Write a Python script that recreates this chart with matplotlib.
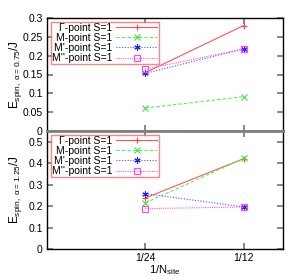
import matplotlib
matplotlib.use('Agg')
import matplotlib.pyplot as plt

plt.rcParams['font.family'] = ['Liberation Sans', 'DejaVu Sans']
plt.rcParams['mathtext.default'] = 'regular'
plt.rcParams['font.size'] = 8

# x positions: 1/N_site
x = [1 / 24, 1 / 12]
xtick_labels = ['1/24', '1/12']
labels = ["\u0393-point S=1", "M-point S=1", "M'-point S=1", "M''-point S=1"]

# alpha = 0.75
top_gamma = [0.155, 0.280]
top_m = [0.061, 0.091]
top_m1 = [0.153, 0.218]
top_m2 = [0.164, 0.218]

# alpha = 1.25
bot_gamma = [0.238, 0.421]
bot_m = [0.215, 0.422]
bot_m1 = [0.258, 0.196]
bot_m2 = [0.188, 0.196]

colors = ['#ff5555', '#55ee55', '#5555ff', '#ff55ff']
mcolors = ['#ff4444', '#44dd44', '#2222ff', '#ff44ff']
styles = ['-', (0, (3, 2)), (0, (1, 1.5)), (0, (1, 1))]
markers = ['+', 'x', (6, 2, 0), 's']

W, H = 300, 279
fig = plt.figure(figsize=(W / 100, H / 100), dpi=100)
ax1 = fig.add_axes([47 / W, (H - 131) / H, 236 / W, 113 / H])
ax2 = fig.add_axes([47 / W, (H - 249) / H, 236 / W, 118 / H])


def draw(ax, series, ylim, yticks, ylabel):
    for ys, c, mc, ls, mk, lab in zip(series, colors, mcolors, styles, markers, labels):
        ax.plot(x, ys, color=c, linestyle=ls, linewidth=0.8, marker=mk,
                markersize=4.5, markeredgecolor=mc, markerfacecolor='none' if mk == 's' else mc,
                markeredgewidth=0.8, label=lab)
    ax.set_xlim(0, 0.1)
    ax.set_ylim(*ylim)
    ax.set_yticks(yticks)
    ax.set_xticks(x)
    ax.tick_params(direction='in', length=4, width=1.2, color='0.45',
                   top=True, right=True, pad=3, labelsize=7.5)
    ax.set_ylabel(ylabel, labelpad=3, fontsize=8.5)
    leg = ax.legend(loc='upper left', markerfirst=False, frameon=True, fancybox=False,
                    handlelength=4.0, handletextpad=0.35, borderpad=0.1,
                    labelspacing=0.02, borderaxespad=0.35, fontsize=7.5)
    leg.get_frame().set_edgecolor('#ff6666')
    leg.get_frame().set_linewidth(1.0)
    for t in leg.get_texts():
        t.set_ha('right')
    leg._legend_box.align = 'right'
    for s in ax.spines.values():
        s.set_linewidth(1.0)


draw(ax1, [top_gamma, top_m, top_m1, top_m2], (0, 0.3),
     [0, 0.05, 0.1, 0.15, 0.2, 0.25, 0.3], r'E$_{spin,\ \alpha=0.75}$/J')
draw(ax2, [bot_gamma, bot_m, bot_m1, bot_m2], (0, 0.55),
     [0, 0.1, 0.2, 0.3, 0.4, 0.5], r'E$_{spin,\ \alpha=1.25}$/J')

ax1.set_xticklabels([])
ax1.set_yticklabels(['0', '0.05', '0.1', '0.15', '0.2', '0.25', '0.3'])
ax2.set_yticklabels(['0', '0.1', '0.2', '0.3', '0.4', '0.5'])
ax2.set_xticklabels(xtick_labels)
ax2.set_xlabel(r'1/N$_{site}$', labelpad=0)
ax1.spines['bottom'].set_color('0.5')
ax1.spines['bottom'].set_linewidth(2)
ax2.spines['top'].set_color('0.5')
ax2.spines['top'].set_linewidth(2)
ax1.yaxis.set_label_coords(-0.098, 0.5)
ax2.yaxis.set_label_coords(-0.098, 0.5)

fig.savefig('out.png', dpi=100)
